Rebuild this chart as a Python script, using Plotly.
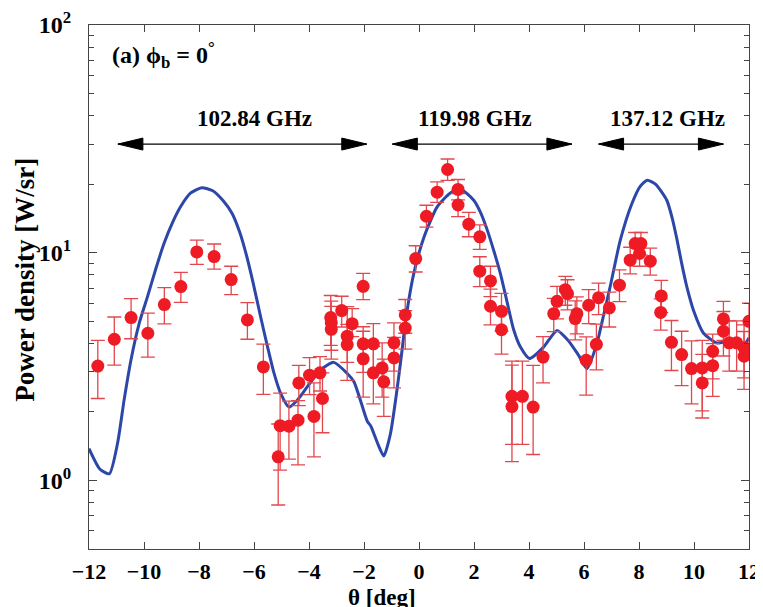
import math
import plotly.graph_objects as go

# ---- measured data (red points) ----
theta_meas = [-11.68, -11.08, -10.47, -9.86, -9.26, -8.66, -8.08, -7.45, -6.83, -6.24,
              -5.66, -5.12, -5.05, -4.73, -4.40, -4.37, -3.98, -3.82, -3.60, -3.51,
              -3.21, -3.19, -3.19, -2.81, -2.61, -2.61, -2.43, -2.03, -2.03, -2.03,
              -1.66, -1.66, -1.34, -1.28, -0.91, -0.91, -0.50, -0.50, -0.12, 0.27,
              0.66, 1.04, 1.42, 1.42, 1.81, 2.21, 2.21, 2.60, 2.60, 3.00,
              3.00, 3.38, 3.38, 3.76, 4.15, 4.51, 4.90, 5.02, 5.32, 5.40,
              5.68, 5.74, 6.08, 6.17, 6.45, 6.53, 6.92, 7.29, 7.68, 7.86,
              8.07, 8.02, 8.41, 8.81, 8.79, 9.18, 9.55, 9.91, 10.30, 10.30,
              10.68, 10.68, 11.07, 11.07, 11.28, 11.55, 11.82, 11.82, 12.00]
power_meas = [3.18, 4.17, 5.19, 4.43, 5.92, 7.10, 10.08, 9.62, 7.62, 5.07,
              3.15, 1.27, 1.74, 1.73, 1.84, 2.68, 2.90, 1.91, 2.97, 2.29,
              5.19, 4.93, 4.61, 5.57, 4.30, 3.95, 4.88, 7.12, 3.98, 3.42,
              3.98, 2.97, 3.12, 2.71, 4.02, 3.45, 5.33, 4.67, 9.43, 14.46,
              18.45, 23.2, 18.97, 16.2, 13.35, 11.74, 8.30, 7.52, 5.82, 5.53,
              4.59, 2.34, 2.11, 2.34, 2.10, 3.48, 5.40, 6.12, 6.88, 6.61,
              5.14, 5.40, 3.37, 5.88, 3.96, 6.35, 5.72, 7.20, 9.27, 10.97,
              10.97, 9.92, 9.18, 6.46, 5.47, 4.04, 3.57, 3.10, 3.12, 2.68,
              3.69, 3.19, 5.12, 4.52, 4.02, 4.02, 3.82, 3.51, 5.00]
err_plus = [0.94, 1.05, 1.10, 1.00, 1.10, 1.10, 1.27, 1.30, 1.10, 0.97,
            0.82, 0.50, 0.68, 0.50, 0.40, 0.52, 0.56, 0.77, 0.53, 0.68,
            1.30, 1.20, 1.20, 0.87, 1.50, 0.90, 0.80, 1.00, 0.75, 1.10,
            0.90, 0.90, 0.90, 0.70, 0.90, 0.80, 0.90, 0.90, 1.30, 1.70,
            2.00, 2.60, 2.00, 2.00, 1.70, 1.50, 1.30, 1.20, 1.10, 1.10,
            1.00, 1.00, 1.10, 1.00, 1.10, 0.80, 0.90, 1.00, 1.00, 1.00,
            1.00, 1.00, 0.90, 1.00, 0.90, 1.00, 1.00, 1.20, 1.30, 1.30,
            1.30, 1.30, 1.30, 1.10, 0.80, 1.00, 0.95, 1.00, 1.00, 0.90,
            0.70, 0.80, 1.00, 1.00, 1.00, 1.00, 1.00, 1.00, 1.00]
err_minus = [0.89, 0.96, 1.00, 0.95, 1.05, 1.05, 1.20, 1.15, 1.07, 0.90,
             0.76, 0.49, 0.63, 0.49, 0.67, 0.55, 0.52, 0.64, 0.50, 0.67,
             1.27, 1.20, 1.20, 0.85, 1.00, 1.20, 0.60, 0.90, 1.00, 1.10,
             1.00, 0.80, 0.80, 0.80, 1.00, 0.90, 0.90, 0.90, 1.20, 1.50,
             1.80, 2.40, 1.90, 1.80, 1.60, 1.40, 1.20, 1.10, 1.00, 1.00,
             1.00, 0.90, 0.90, 0.90, 0.80, 0.80, 0.90, 1.00, 1.00, 1.00,
             1.00, 1.00, 1.00, 1.00, 0.90, 1.00, 1.00, 1.10, 1.20, 1.20,
             1.20, 1.20, 1.20, 1.00, 0.90, 1.00, 0.96, 0.93, 1.10, 0.80,
             0.90, 0.85, 1.00, 1.00, 1.00, 1.00, 1.00, 1.00, 1.00]

# ---- theoretical curve (blue line) ----
theta_calc = [-12.0, -11.6, -11.26, -10.96, -10.72, -10.47, -10.17, -9.87, -9.57, -9.27,
              -8.96, -8.66, -8.3, -7.9, -7.5, -7.12, -6.8, -6.51, -6.27, -6.03,
              -5.77, -5.51, -5.27, -5.03, -4.73, -4.4, -4.06, -3.58, -3.1, -2.61,
              -2.37, -2.18, -1.88, -1.75, -1.51, -1.28, -1.04, -0.8, -0.62, -0.49,
              -0.19, 0.18, 0.66, 1.14, 1.51, 1.99, 2.24, 2.48, 2.72, 2.96,
              3.2, 3.44, 3.69, 4.02, 4.53, 5.02, 5.44, 5.8, 6.11, 6.47,
              6.71, 6.95, 7.32, 7.74, 8.05, 8.3, 8.6, 9.01, 9.2, 9.37,
              9.55, 9.74, 10.0, 10.34, 10.82, 11.31, 11.79, 12.0]
power_calc = [1.38, 1.12, 1.07, 1.46, 2.27, 3.4, 4.92, 6.43, 8.5, 11.0,
              13.6, 16.0, 18.3, 19.3, 18.7, 16.9, 14.9, 12.2, 9.7, 7.36,
              5.3, 3.87, 2.95, 2.41, 2.1, 2.27, 2.58, 3.06, 3.3, 2.95,
              2.72, 2.35, 1.82, 1.73, 1.46, 1.28, 1.6, 2.5, 3.7, 5.0,
              8.1, 11.7, 15.9, 18.3, 19.0, 17.0, 15.0, 12.6, 10.2, 8.1,
              6.1, 4.6, 3.85, 3.43, 3.85, 4.56, 4.1, 3.55, 3.1, 4.0,
              5.3, 7.08, 11.35, 16.4, 19.6, 20.8, 20.0, 17.0, 14.3, 11.6,
              9.0, 7.08, 5.5, 4.44, 4.02, 4.08, 3.9, 4.23]

# ---- frequency arrows ----
arrow_start = [-10.95, -0.97, 6.53]
arrow_end = [-1.9, 5.56, 11.07]
arrow_level = 30.0
freq_labels = ["102.84 GHz", "119.98 GHz", "137.12 GHz"]
label_x = [-6.0, 2.05, 9.05]
label_level = 39.0

x_ticks = [-12, -10, -8, -6, -4, -2, 0, 2, 4, 6, 8, 10, 12]
y_ticks = [1, 10, 100]
y_ticktext = ["10<sup>0</sup>", "10<sup>1</sup>", "10<sup>2</sup>"]

FONT = "Liberation Serif"

fig = go.Figure()
fig.add_trace(go.Scatter(
    x=theta_calc, y=power_calc, mode="lines",
    line=dict(color="#2c47a8", width=3, shape="spline", smoothing=0.6),
    hoverinfo="skip", showlegend=False))
fig.add_trace(go.Scatter(
    x=theta_meas, y=power_meas, mode="markers",
    marker=dict(color="#ee1b24", size=13, line=dict(width=0)),
    error_y=dict(type="data", array=err_plus, arrayminus=err_minus,
                 color="#e2474d", thickness=1.3, width=7),
    showlegend=False))

shapes = []
for s, e in zip(arrow_start, arrow_end):
    shapes.append(dict(type="line", xref="x", yref="y", x0=s, x1=e,
                       y0=arrow_level, y1=arrow_level,
                       line=dict(color="black", width=1.3)))
    shapes.append(dict(type="path", xref="x", yref="y", xsizemode="pixel", ysizemode="pixel",
                       xanchor=s, yanchor=arrow_level, path="M0,0 L25,6 L25,-6 Z",
                       fillcolor="black", line=dict(color="black", width=1)))
    shapes.append(dict(type="path", xref="x", yref="y", xsizemode="pixel", ysizemode="pixel",
                       xanchor=e, yanchor=arrow_level, path="M0,0 L-25,6 L-25,-6 Z",
                       fillcolor="black", line=dict(color="black", width=1)))

annotations = []
for lab, lx in zip(freq_labels, label_x):
    annotations.append(dict(x=lx, y=math.log10(label_level), xref="x", yref="y",
                            text=lab, showarrow=False,
                            font=dict(family=FONT, size=23, color="black", weight="bold")))
annotations.append(dict(x=0.032, y=0.942, xref="paper", yref="paper", xanchor="left",
                        yanchor="middle", showarrow=False,
                        text="(a) \u03d5<sub>b</sub> = 0<sup>°</sup>",
                        font=dict(family=FONT, size=24, color="black", weight="bold")))
annotations.append(dict(x=0.444, y=-0.093, xref="paper", yref="paper", xanchor="center",
                        yanchor="middle", showarrow=False, text="θ [deg]",
                        font=dict(family=FONT, size=23, color="black", weight="bold")))
annotations.append(dict(x=-0.096, y=0.513, xref="paper", yref="paper", xanchor="center",
                        yanchor="middle", showarrow=False, text="Power density [W/sr]",
                        textangle=-90,
                        font=dict(family=FONT, size=27, color="black", weight="bold")))

# the page body adds an 8 px offset; size and margins compensate for it
fig.update_layout(
    width=755, height=599,
    margin=dict(l=81, r=14, t=17, b=58, autoexpand=False),
    paper_bgcolor="white", plot_bgcolor="white",
    shapes=shapes, annotations=annotations,
    xaxis=dict(range=[-12, 12], tickvals=x_ticks, ticks="inside", ticklen=7,
               tickcolor="#444", mirror="ticks", showline=True, linecolor="#444",
               linewidth=1.2, showgrid=False, zeroline=False, ticklabelstandoff=2,
               automargin=False,
               tickfont=dict(family=FONT, size=22, color="black", weight="bold")),
    yaxis=dict(type="log", range=[math.log10(0.5), 2], tickvals=y_ticks, ticktext=y_ticktext,
               ticks="inside", ticklen=8, tickcolor="#444", mirror="ticks", showline=True,
               linecolor="#444", linewidth=1.2, showgrid=False, zeroline=False,
               ticklabelstandoff=12, automargin=False,
               minor=dict(ticks="inside", ticklen=5, tickcolor="#444", dtick="D1", showgrid=False),
               tickfont=dict(family=FONT, size=24, color="black", weight="bold")),
)

fig.write_html("out.html")
